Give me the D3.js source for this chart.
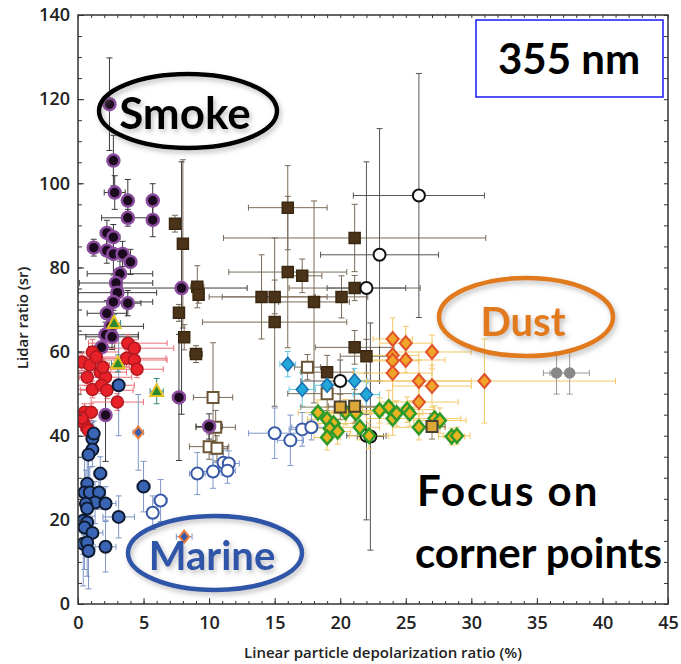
<!DOCTYPE html>
<html lang="en">
<head>
<meta charset="UTF-8">
<title>Lidar ratio vs depolarization, 355 nm</title>
<style>
    body { margin: 0; padding: 0; background: #fff; }
    svg { display: block; }
    .tick text { font-family: "Open Sans", Arial, sans-serif; font-size: 18px; font-weight: 600; fill: #222; }
    .axis-title { font-family: "Open Sans", Arial, sans-serif; font-size: 15px; font-weight: 600; fill: #222; }
    .note { font-family: Lato, "Open Sans", sans-serif; font-weight: bold; }
</style>
</head>
<body>
<div id="chart"></div>
<script src="https://cdn.jsdelivr.net/npm/d3@7"></script>
<script>
// each point: [depol %, lidar ratio sr, x error, y error]
const smoke = [
    [2.4, 118.8, 0.3, 11], [2.7, 105.4, 0.3, 6], [2.8, 97.8, 0.8, 4], [3.8, 95.9, 0.3, 5],
    [5.7, 95.9, 0.3, 4], [3.8, 91.8, 2, 2], [5.7, 91.3, 0.3, 4], [2.2, 88.2, 0.5, 3],
    [2.7, 87.2, 0.5, 3], [1.2, 84.7, 0.3, 2], [2.2, 84, 0.5, 3], [2.7, 83.2, 0.5, 5],
    [3.4, 83.2, 0.3, 3], [4.0, 81.3, 0.3, 3], [3.2, 78.5, 2.5, 3], [2.9, 76.3, 2.8, 3],
    [3.0, 74, 3, 2], [3.8, 71.5, 1, 3], [2.7, 71.8, 3, 2], [2.2, 69.1, 1.5, 3],
    [2.5, 66, 2.5, 3], [2.1, 64, 2.5, 3], [2.6, 63.5, 2, 3], [1.8, 61, 1, 3],
    [7.9, 75.1, 5, 30], [7.7, 49.1, 0.5, 15], [2.1, 44.9, 0.3, 11], [10, 42.2, 1, 3]
];
const pollution = [
    [3.8, 62, 3, 2], [4.3, 60.8, 3, 2], [3.7, 58.4, 3, 2], [4.3, 58, 2.5, 3],
    [4.5, 55.8, 2, 2], [0.3, 57.5, 1, 2], [1.1, 59.9, 2, 3], [0.9, 56.8, 1.5, 2],
    [0.7, 53.9, 1, 2], [1.7, 55.1, 2, 2], [2.1, 53.9, 2, 2], [1.1, 51, 2, 2],
    [1.8, 52, 2.5, 2], [2.2, 50.8, 2, 2], [3.0, 48, 2, 2], [0.5, 45.6, 0.5, 2],
    [1.0, 45.6, 0.5, 2], [0.4, 43.2, 0.4, 2], [0.7, 41.8, 0.5, 2], [1.4, 58.7, 2, 2],
    [1.9, 56.3, 2, 2], [0.8, 41.3, 0.4, 2], [0.3, 44.2, 0.3, 2]
];
const marine = [
    [1.1, 39.3, 0.3, 4], [1.1, 36.7, 0.3, 4], [0.8, 35.5, 0.3, 6], [1.7, 31, 0.5, 4],
    [0.7, 28.6, 0.3, 6], [0.5, 26.5, 0.3, 8], [0.9, 26.5, 0.3, 6], [1.6, 26.5, 0.5, 4],
    [1.3, 24.1, 0.5, 5], [2.1, 23.9, 0.8, 4], [0.6, 23.8, 0.3, 8], [0.7, 22.7, 0.3, 6],
    [3.1, 20.7, 1.2, 5], [0.4, 19.8, 0.3, 8], [0.7, 19.4, 0.3, 6], [0.5, 18.2, 0.3, 10],
    [1.1, 16.9, 0.8, 4], [0.4, 14.3, 0.3, 10], [0.7, 14.6, 0.3, 8], [2.1, 13.6, 0.8, 6],
    [0.8, 12.6, 0.3, 9], [5.0, 27.9, 0.5, 6], [3.1, 52, 0.3, 12], [1.2, 40.5, 0.3, 3]
];
const marineOpen = [
    [5.7, 21.7, 0.4, 4], [6.3, 24.6, 0.5, 5], [9.1, 31, 0.6, 5], [10.3, 31.5, 0.8, 4],
    [11.1, 33.6, 0.8, 3], [11.5, 33.4, 0.8, 3], [11.4, 31.7, 0.6, 3], [15, 40.6, 2, 6],
    [16.2, 38.9, 1, 6], [17.1, 41.5, 1, 4], [17.8, 42, 1.5, 3]
];
const mixSquares = [
    [7.4, 90.4, 0.3, 2], [8.0, 85.6, 0.3, 20], [9.1, 75.4, 0.5, 5], [9.2, 73.5, 0.4, 2],
    [7.7, 69.2, 0.3, 2], [8.1, 63.4, 0.3, 3], [9.0, 59.4, 0.5, 2], [16, 94.2, 3, 10],
    [21.1, 87, 10, 8], [16, 78.9, 4.5, 18], [17.1, 78, 1.5, 4], [14, 73, 4, 10],
    [15, 73, 4, 4], [18, 71.8, 2.7, 24], [20.1, 73, 2, 5], [21.1, 75.1, 5, 3],
    [15, 67, 5.5, 20], [21.1, 61, 3, 4], [22, 58.9, 2, 4], [19, 55.1, 2, 4]
];
const openSquares = [
    [10.3, 49.1, 1.5, 13], [10.5, 42, 1.5, 4], [10, 37.4, 1.5, 3], [10.6, 37, 0.8, 3],
    [17.5, 56.3, 1, 3], [19, 50, 3, 4]
];
const goldSquares = [[20, 46.8, 3, 3], [21.1, 47, 2, 4], [27, 42.2, 1, 3]];
const openCircles = [
    [26, 97.1, 5, 29], [23, 83, 4.5, 30], [22, 75.1, 3, 30], [20, 53, 3, 5],
    [22, 40, 1.5, 20], [22.3, 39.8, 1, 27]
];
const cyanDiamonds = [[16, 57, 0.6, 3], [17.1, 51, 1, 4], [19, 52, 1, 3], [21.1, 53, 1, 3], [22, 49.8, 1, 3]];
const dust = [
    [24, 63, 1.5, 5], [25, 62, 2, 4], [27, 59.9, 3, 4], [24, 59.1, 2, 5], [25, 58, 3, 3],
    [24, 57.8, 2, 4], [24, 54.9, 3, 8], [26, 53, 4, 5], [27, 51.8, 3, 5], [26, 48, 3, 4],
    [31, 53, 10, 10]
];
const dustMix = [
    [18.3, 45.5, 1.5, 3], [19, 43.9, 1.5, 3], [19.5, 42.9, 1.5, 3], [19.2, 41.7, 1, 3],
    [19.8, 41, 1, 3], [19, 39.6, 1, 3], [20.4, 45.6, 2, 3], [21.2, 45.3, 2, 3],
    [21.5, 42, 1.5, 3], [22.2, 40, 1.5, 3], [23, 46, 2, 3], [23.7, 46.8, 2, 4],
    [24, 44.1, 2, 4], [24.3, 45.3, 2, 3], [25.1, 46.2, 2, 3], [25.3, 45.3, 2, 3],
    [26, 42, 2, 3], [27.2, 44.1, 2, 3], [27.6, 43.6, 2, 3], [28.5, 39.8, 1, 2], [28.9, 40, 1, 2]
];
const smallDiamonds = [[4.6, 40.8, 0.4, 9], [8.1, 16, 0.6, 1]];
const grayCircles = [[36.5, 54.9, 1, 5], [37.5, 54.9, 1.5, 5]];
const triangles = [[2.75, 66.8, 0.5, 2], [3.05, 57.2, 0.5, 2], [6.0, 50.6, 0.5, 3]];

const xTicks = [0, 5, 10, 15, 20, 25, 30, 35, 40, 45];
const yTicks = [0, 20, 40, 60, 80, 100, 120, 140];

const w = 681, h = 664;
const mLeft = 78, mRight = 668, mTop = 15, mBottom = 604;

const x = d3.scaleLinear().domain([0, 45]).range([mLeft, mRight]);
const y = d3.scaleLinear().domain([0, 140]).range([mBottom, mTop]);

// draw order = layering
const series = [
    { data: mixSquares, shape: "square", fill: "#4a3318", stroke: "#3a2810", err: "#7a6a58" },
    { data: openCircles, shape: "circle", fill: "#fff", stroke: "#111", err: "#555", sw: 2 },
    { data: openSquares, shape: "square", fill: "#fff", stroke: "#6b5535", err: "#7a6a58", sw: 2 },
    { data: cyanDiamonds, shape: "diamond", fill: "#22a8d8", stroke: "#1a70b0", err: "#60c8e0" },
    { data: dustMix, shape: "diamond", fill: "#e8b420", stroke: "#2e9a2a", err: "#f2c866", sw: 2.5 },
    { data: goldSquares, shape: "square", fill: "#dca838", stroke: "#4a4030", err: "#8a7a60", sw: 2 },
    { data: dust, shape: "diamond", fill: "#f0a428", stroke: "#e0502a", err: "#f2c866", sw: 2 },
    { data: grayCircles, shape: "circle", fill: "#888", stroke: "#888", err: "#999", r: 5 },
    { data: marineOpen, shape: "circle", fill: "#fff", stroke: "#3858a8", err: "#8098c8", sw: 2 },
    { data: smoke, shape: "circle", fill: "#1c0a1e", stroke: "#8a4a9e", err: "#3a3a3a", sw: 2.5 },
    { data: pollution, shape: "circle", fill: "#e82028", stroke: "#b01820", err: "#ea6f78" },
    { data: marine, shape: "circle", fill: "#3a64b4", stroke: "#0e1a30", err: "#7d95c5", sw: 2 },
    { data: triangles, shape: "triangle", fill: "#2a8a30", stroke: "#e8c020", err: "#3a8a7a", sw: 2 },
    { data: smallDiamonds, shape: "diamond", fill: "#3a5aa8", stroke: "#f08040", err: "#7d95c5", sw: 2, size: 5 }
];

const svg = d3.select("#chart").append("svg")
    .attr("width", w)
    .attr("height", h);

const defs = svg.append("defs");
defs.append("filter").attr("id", "shadow")
    .attr("x", "-20%").attr("y", "-20%").attr("width", "140%").attr("height", "150%")
    .append("feDropShadow")
    .attr("dx", 2).attr("dy", 3).attr("stdDeviation", 2.5)
    .attr("flood-color", "#777").attr("flood-opacity", 0.45);
defs.append("clipPath").attr("id", "plot-clip")
    .append("rect").attr("x", mLeft).attr("y", mTop)
    .attr("width", mRight - mLeft).attr("height", mBottom - mTop);

const plot = svg.append("g").attr("clip-path", "url(#plot-clip)");

// error bars first
const cap = 3;
series.forEach(s => {
    const g = plot.append("g")
        .attr("stroke", s.err)
        .attr("stroke-width", 1)
        .attr("fill", "none");
    s.data.forEach(d => {
        const cx = x(d[0]), cy = y(d[1]);
        const x0 = x(d[0] - d[2]), x1 = x(d[0] + d[2]);
        const y0 = y(d[1] - d[3]), y1 = y(d[1] + d[3]);
        g.append("path").attr("d",
            `M${x0},${cy}H${x1}M${x0},${cy - cap}V${cy + cap}M${x1},${cy - cap}V${cy + cap}` +
            `M${cx},${y0}V${y1}M${cx - cap},${y0}H${cx + cap}M${cx - cap},${y1}H${cx + cap}`);
    });
});

// markers
series.forEach(s => {
    const g = plot.append("g");
    const sym = s.shape;
    g.selectAll("path").data(s.data).enter().append("path")
        .attr("transform", d => `translate(${x(d[0])},${y(d[1])})`)
        .attr("fill", s.fill)
        .attr("stroke", s.stroke)
        .attr("stroke-width", s.sw || 1.5)
        .attr("d", () => {
            const r = s.r || s.size || 6;
            if (sym === "circle") return d3.symbol(d3.symbolCircle, Math.PI * r * r)();
            if (sym === "square") return `M${-5.5},${-5.5}h11v11h-11z`;
            if (sym === "diamond") return `M0,${-r - 1}L${r},0L0,${r + 1}L${-r},0Z`;
            return `M0,-7L6.5,5H-6.5Z`;
        });
});

// frame + ticks
const axes = svg.append("g").attr("color", "#333");
const xMinor = d3.range(0, 46, 1);
const yMinor = d3.range(0, 141, 5);

axes.append("g")
    .attr("transform", `translate(0,${mBottom})`)
    .call(d3.axisBottom(x).tickValues(xMinor).tickSize(-3).tickFormat(""))
    .call(g => g.select(".domain").remove());
axes.append("g")
    .attr("transform", `translate(0,${mBottom})`)
    .call(d3.axisBottom(x).tickValues(xTicks).tickSize(-6).tickPadding(12).tickFormat(d3.format("d")))
    .call(g => g.select(".domain").remove());
axes.append("g")
    .attr("transform", `translate(0,${mTop})`)
    .call(d3.axisTop(x).tickValues(xMinor).tickSize(-3).tickFormat(""))
    .call(g => g.select(".domain").remove());
axes.append("g")
    .attr("transform", `translate(${mLeft},0)`)
    .call(d3.axisLeft(y).tickValues(yMinor).tickSize(-4).tickFormat(""))
    .call(g => g.select(".domain").remove());
axes.append("g")
    .attr("transform", `translate(${mLeft},0)`)
    .call(d3.axisLeft(y).tickValues(yTicks).tickSize(-6).tickPadding(8).tickFormat(d3.format("d")))
    .call(g => g.select(".domain").remove());
axes.append("g")
    .attr("transform", `translate(${mRight},0)`)
    .call(d3.axisRight(y).tickValues(yMinor).tickSize(-4).tickFormat(""))
    .call(g => g.select(".domain").remove());

axes.append("rect")
    .attr("x", mLeft).attr("y", mTop)
    .attr("width", mRight - mLeft).attr("height", mBottom - mTop)
    .attr("fill", "none").attr("stroke", "#333").attr("stroke-width", 1.5);

svg.append("text").attr("class", "axis-title")
    .attr("x", 383).attr("y", 658)
    .attr("text-anchor", "middle")
    .text("Linear particle depolarization ratio (%)");
svg.append("text").attr("class", "axis-title")
    .attr("transform", "translate(28,318) rotate(-90)")
    .attr("text-anchor", "middle")
    .text("Lidar ratio (sr)");

// annotations
const notes = svg.append("g");
notes.append("rect")
    .attr("x", 476).attr("y", 20).attr("width", 187).attr("height", 77)
    .attr("fill", "#fff").attr("stroke", "#1a1aee").attr("stroke-width", 1.5);
notes.append("text").attr("class", "note")
    .attr("x", 569).attr("y", 74).attr("text-anchor", "middle")
    .attr("font-size", 42).attr("fill", "#000").text("355 nm");

const ellipses = [
    { cx: 188, cy: 111, rx: 89, ry: 37, color: "#000", label: "Smoke", ty: 129, size: 44 },
    { cx: 526, cy: 317, rx: 87, ry: 39, color: "#e07a1a", label: "Dust", ty: 336, size: 40 },
    { cx: 215, cy: 553, rx: 87, ry: 37, color: "#2f55a8", label: "Marine", ty: 570, size: 40 }
];
ellipses.forEach(e => {
    notes.append("ellipse")
        .attr("cx", e.cx).attr("cy", e.cy).attr("rx", e.rx).attr("ry", e.ry)
        .attr("fill", "none").attr("stroke", e.color).attr("stroke-width", 4.5)
        .attr("filter", "url(#shadow)");
    notes.append("text").attr("class", "note")
        .attr("x", e.cx - 3).attr("y", e.ty).attr("text-anchor", "middle")
        .attr("font-size", e.size).attr("fill", e.color)
        .attr("filter", "url(#shadow)")
        .text(e.label);
});

notes.append("text").attr("class", "note")
    .attr("x", 417).attr("y", 506)
    .attr("font-size", 42).attr("letter-spacing", 2).attr("fill", "#000").text("Focus on");
notes.append("text").attr("class", "note")
    .attr("x", 415).attr("y", 568)
    .attr("font-size", 42).attr("fill", "#000").text("corner points");
</script>
</body>
</html>
